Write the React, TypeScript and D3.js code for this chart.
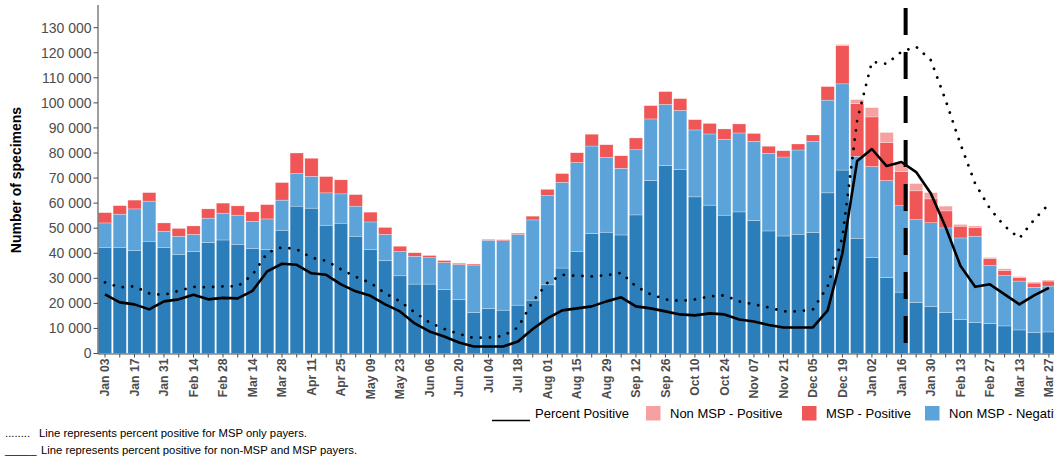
import {useEffect, useRef} from "react";
import * as d3 from "d3";

// weekly categories (week start dates)
const weeks = [
  "Jan 03", "Jan 10", "Jan 17", "Jan 24", "Jan 31", "Feb 07", "Feb 14", "Feb 21", "Feb 28", "Mar 07",
  "Mar 14", "Mar 21", "Mar 28", "Apr 04", "Apr 11", "Apr 18", "Apr 25", "May 02", "May 09", "May 16",
  "May 23", "May 30", "Jun 06", "Jun 13", "Jun 20", "Jun 27", "Jul 04", "Jul 11", "Jul 18", "Jul 25",
  "Aug 01", "Aug 08", "Aug 15", "Aug 22", "Aug 29", "Sep 05", "Sep 12", "Sep 19", "Sep 26", "Oct 03",
  "Oct 10", "Oct 17", "Oct 24", "Oct 31", "Nov 07", "Nov 14", "Nov 21", "Nov 28", "Dec 05", "Dec 12",
  "Dec 19", "Dec 26", "Jan 02", "Jan 09", "Jan 16", "Jan 23", "Jan 30", "Feb 06", "Feb 13", "Feb 20",
  "Feb 27", "Mar 06", "Mar 13", "Mar 20", "Mar 27",
];

// number of specimens per week, by payer and result
const mspNegative = [
  42400, 42400, 41000, 44800, 42400, 39600, 40600, 44300, 45300, 43600,
  41800, 41600, 49200, 58800, 58000, 51200, 52000, 46800, 41600, 37000,
  31000, 27700, 27700, 25600, 21600, 16300, 17900, 17300, 19300, 21300,
  27400, 34100, 40800, 47900, 48400, 47300, 55300, 69000, 75000, 73500,
  62500, 59200, 55200, 56500, 53100, 48900, 46900, 47600, 48300, 64100,
  73200, 46000, 38400, 30300, 24500, 20300, 18700, 16300, 13600, 12300,
  12000, 11000, 9400, 8300, 8600,
];
const nonMspNegative = [
  9700, 13200, 16700, 16000, 6400, 7200, 6900, 9700, 10700, 11600,
  10900, 12100, 12000, 13000, 12700, 12900, 11700, 12000, 10900, 10500,
  9700, 11100, 10500, 10700, 13900, 19000, 27300, 27700, 28200, 32000,
  35600, 34200, 35400, 34900, 29900, 26600, 26000, 24600, 24400, 23500,
  26700, 28400, 30300, 31500, 31600, 31000, 31500, 33600, 36400, 37000,
  34400, 32700, 36200, 38700, 34500, 33100, 33500, 33800, 32500, 34500,
  23100, 20100, 19500, 18100, 18300,
];
const mspPositive = [
  4100, 3400, 3500, 3400, 3300, 3100, 3400, 3700, 4000, 3700,
  3800, 5700, 7000, 8200, 7200, 6500, 5600, 4600, 3900, 2800,
  2100, 1400, 900, 800, 500, 400, 300, 400, 500, 1500,
  2500, 3500, 3900, 4700, 5000, 5000, 4700, 5300, 5100, 4700,
  4100, 4200, 4100, 3600, 3100, 2800, 2500, 2400, 2500, 5400,
  15200, 21000, 19800, 15200, 13600, 11500, 9500, 6800, 4700, 3500,
  2700, 2000, 1400, 1700, 2000,
];
const nonMspPositive = [
  0, 0, 0, 0, 0, 0, 0, 0, 0, 0,
  0, 0, 0, 0, 0, 0, 0, 0, 0, 0,
  0, 0, 0, 0, 0, 0, 0, 0, 0, 0,
  0, 0, 0, 0, 0, 0, 0, 0, 0, 0,
  0, 0, 0, 0, 0, 0, 0, 0, 0, 200,
  500, 1600, 3700, 4000, 3100, 2900, 2500, 1900, 700, 600,
  500, 700, 400, 400, 400,
];

// percent positive (solid = non-MSP and MSP payers, dotted = MSP only)
const pctPositiveAll = [
  5.9, 5.1, 4.9, 4.4, 5.2, 5.4, 5.85, 5.4, 5.55, 5.5,
  6.25, 8.2, 8.95, 8.85, 8.0, 7.85, 6.9, 6.2, 5.75, 4.9,
  4.2, 3.0, 2.2, 1.7, 1.1, 0.7, 0.7, 0.7, 1.2, 2.45,
  3.5, 4.3, 4.5, 4.7, 5.2, 5.6, 4.7, 4.5, 4.2, 3.9,
  3.8, 4.0, 3.9, 3.4, 3.2, 2.85, 2.6, 2.6, 2.6, 4.3,
  10.0, 19.2, 20.4, 18.7, 19.1, 18.1, 15.95, 12.6, 8.75, 6.65,
  6.9, 5.9, 4.9, 5.8, 6.55,
];
const pctPositiveMsp = [
  7.1, 6.6, 6.7, 6.0, 5.85, 6.25, 6.65, 6.6, 6.7, 6.7,
  7.85, 10.05, 10.6, 10.4, 9.55, 9.25, 8.4, 7.65, 7.05, 6.0,
  5.2, 4.1, 3.1, 2.45, 1.95, 1.55, 1.6, 1.75, 2.6, 5.2,
  7.05, 7.85, 7.75, 7.7, 7.8, 8.05, 6.7, 5.9, 5.4, 5.25,
  5.4, 5.7, 5.8, 5.2, 4.9, 4.6, 4.2, 4.2, 4.4, 6.7,
  11.6, 23.25, 29.1, 28.9, 30.1, 30.6, 29.25, 25.25, 20.9, 16.95,
  14.45, 12.7, 11.5, 13.35, 14.9,
];

const yTicks = [0, 10000, 20000, 30000, 40000, 50000, 60000, 70000, 80000, 90000, 100000, 110000, 120000, 130000];

const cutoffWeek = "Jan 16";
const cutoffOffsetDays = 2;

const legendLabels = ["Percent Positive", "Non MSP - Positive", "MSP - Positive", "Non MSP - Negative"];

const FONT = "'Liberation Sans', Arial, Helvetica, sans-serif";

export default function App() {
  const svgRef = useRef<SVGSVGElement>(null);

  useEffect(() => {
    if (!svgRef.current) return;
    const svg = d3.select(svgRef.current);
    svg.selectAll("*").remove();

    const x = d3
      .scaleBand<string>()
      .domain(weeks)
      .range([98, 1055.9])
      .paddingInner(0.1)
      .paddingOuter(0.025);
    const y = d3.scaleLinear().domain([0, 130000]).range([353.5, 27.7]);
    const yPct = d3.scaleLinear().domain([0, 32.5]).range([353.5, 27.7]);
    const cx = (w: string) => (x(w) ?? 0) + x.bandwidth() / 2;

    const rows = weeks.map((week, i) => ({
      week,
      mspNeg: mspNegative[i],
      nonMspNeg: nonMspNegative[i],
      mspPos: mspPositive[i],
      nonMspPos: nonMspPositive[i],
    }));
    const keys = ["mspNeg", "nonMspNeg", "mspPos", "nonMspPos"];
    const colours: Record<string, string> = {
      mspNeg: "#2c7eba",
      nonMspNeg: "#5ba3d9",
      mspPos: "#f05656",
      nonMspPos: "#f6a1a1",
    };
    // eslint-disable-next-line @typescript-eslint/no-explicit-any
    const series = d3.stack<any>().keys(keys)(rows);

    // bars
    svg
      .append("g")
      .selectAll("g")
      .data(series)
      .join("g")
      .attr("fill", (d) => colours[d.key])
      .selectAll("rect")
      .data((d) => d)
      .join("rect")
      // eslint-disable-next-line @typescript-eslint/no-explicit-any
      .attr("x", (d: any) => x(d.data.week) ?? 0)
      .attr("y", (d) => y(d[1]))
      .attr("width", x.bandwidth())
      .attr("height", (d) => y(d[0]) - y(d[1]))
      .attr("stroke", "#fff")
      .attr("stroke-width", 0.5)
      .attr("stroke-opacity", 0.55);

    // y axis
    const yAxis = svg.append("g").attr("transform", "translate(98,0)");
    yAxis
      .append("line")
      .attr("y1", 5)
      .attr("y2", 354)
      .attr("stroke", "#4d4d4d")
      .attr("stroke-width", 1.1);
    const yt = yAxis.selectAll(".yt").data(yTicks).join("g").attr("transform", (d) => `translate(0,${y(d)})`);
    yt.append("line").attr("x1", -4.5).attr("x2", 0).attr("stroke", "#4d4d4d").attr("stroke-width", 1);
    yt.append("text")
      .attr("x", -6.5)
      .attr("dy", "0.35em")
      .attr("text-anchor", "end")
      .style("font-family", FONT)
      .style("font-size", "14px")
      .attr("fill", "#4d4d4d")
      .text((d) => d3.format(",")(d).replace(/,/g, " "));

    svg
      .append("text")
      .attr("transform", "translate(21,180) rotate(-90)")
      .attr("text-anchor", "middle")
      .style("font-family", FONT)
      .style("font-size", "14px")
      .style("font-weight", "bold")
      .attr("fill", "#000")
      .text("Number of specimens");

    // x axis
    const xAxis = svg.append("g").attr("transform", "translate(0,354)");
    xAxis
      .append("line")
      .attr("x1", 98)
      .attr("x2", 1054)
      .attr("stroke", "#4d4d4d")
      .attr("stroke-width", 1.1);
    const xt = xAxis.selectAll(".xt").data(weeks).join("g").attr("transform", (d) => `translate(${cx(d)},0)`);
    xt.append("line").attr("y1", 0).attr("y2", 3.5).attr("stroke", "#4d4d4d").attr("stroke-width", 1);
    xt.filter((_d, i) => i % 2 === 0)
      .append("text")
      .attr("transform", "rotate(-90)")
      .attr("x", -4.5)
      .attr("dy", "0.36em")
      .attr("text-anchor", "end")
      .style("font-family", FONT)
      .style("font-size", "12.2px")
      .style("font-weight", "bold")
      .attr("fill", "#4d4d4d")
      .text((d) => d);

    // percent positive lines
    const line = d3
      .line<number>()
      .x((_d, i) => cx(weeks[i]))
      .y((d) => yPct(d));

    svg
      .append("path")
      .attr("d", line(pctPositiveMsp))
      .attr("fill", "none")
      .attr("stroke", "#000")
      .attr("stroke-width", 2.8)
      .attr("stroke-linecap", "round")
      .attr("stroke-dasharray", "0.01 9.3");

    svg
      .append("path")
      .attr("d", line(pctPositiveAll))
      .attr("fill", "none")
      .attr("stroke", "#000")
      .attr("stroke-width", 2.6)
      .attr("stroke-linejoin", "round");

    // vertical cut-off line
    const cutX = cx(cutoffWeek) + (x.step() * cutoffOffsetDays) / 7;
    svg
      .append("line")
      .attr("x1", cutX)
      .attr("x2", cutX)
      .attr("y1", 8)
      .attr("y2", 354)
      .attr("stroke", "#000")
      .attr("stroke-width", 4)
      .attr("stroke-dasharray", "27 17");

    // legend
    const legend = svg.append("g").style("font-family", FONT).style("font-size", "13px");
    legend
      .append("line")
      .attr("x1", 492)
      .attr("x2", 530)
      .attr("y1", 420.5)
      .attr("y2", 420.5)
      .attr("stroke", "#000")
      .attr("stroke-width", 1.3);
    legend.append("text").attr("x", 535).attr("y", 418).attr("fill", "#000").text(legendLabels[0]);
    const swatches = [
      {x: 646, colour: colours.nonMspPos, label: legendLabels[1]},
      {x: 802, colour: colours.mspPos, label: legendLabels[2]},
      {x: 925, colour: colours.nonMspNeg, label: legendLabels[3]},
    ];
    swatches.forEach((s) => {
      legend.append("rect").attr("x", s.x).attr("y", 406).attr("width", 14.5).attr("height", 14.5).attr("fill", s.colour);
      legend
        .append("text")
        .attr("x", s.x + 24)
        .attr("y", 418)
        .attr("fill", "#000")
        .text(s.label);
    });

    // notes
    const notes = svg.append("g").style("font-family", FONT).style("font-size", "11.3px").attr("fill", "#000");
    notes.append("text").attr("x", 5).attr("y", 437).text("........");
    notes.append("text").attr("x", 39).attr("y", 437).text("Line represents percent positive for MSP only payers.");
    notes.append("text").attr("x", 5).attr("y", 454).text("_____");
    notes.append("text").attr("x", 41).attr("y", 454).text("Line represents percent positive for non-MSP and MSP payers.");
  }, []);

  return (
    <div>
      <style>{"body{margin:0}"}</style>
      <svg
        ref={svgRef}
        width={1054}
        height={468}
        style={{display: "block", background: "white", overflow: "hidden"}}
      ></svg>
    </div>
  );
}
